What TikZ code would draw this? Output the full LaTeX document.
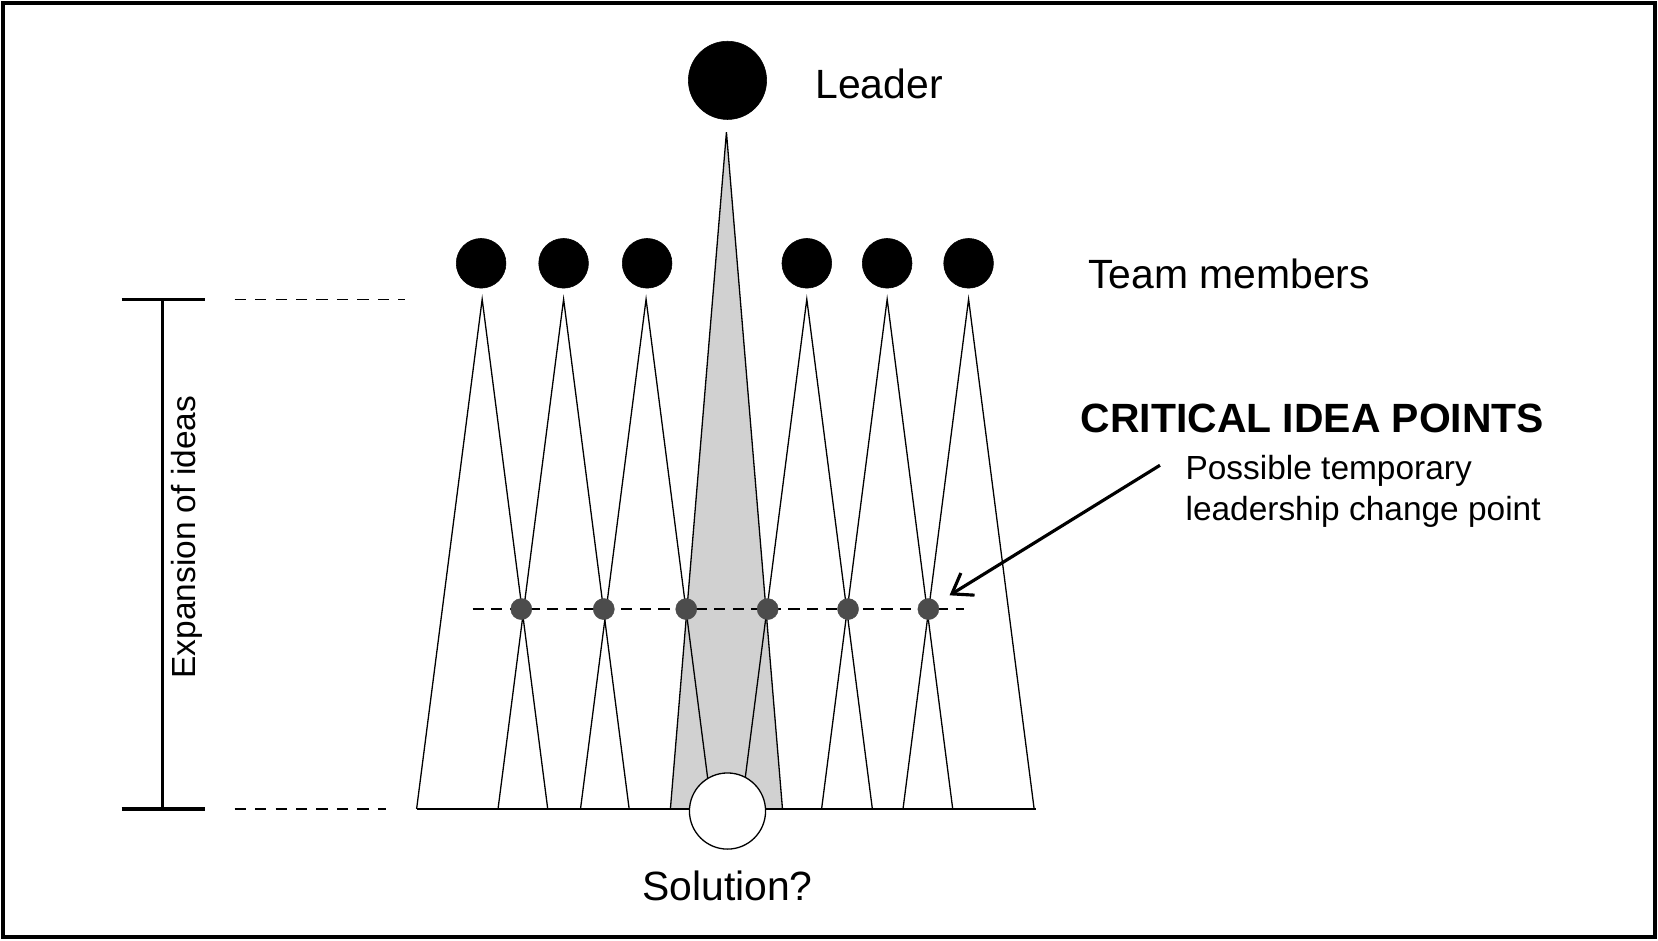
\documentclass[tikz,border=0pt]{standalone}
\usepackage{fontspec}
\setmainfont{Liberation Sans}
\usetikzlibrary{arrows.meta}
\begin{document}
\begin{tikzpicture}[x=0.02cm,y=-0.02cm,
  thin line/.style={line width=0.7pt},
  big/.style={font=\fontsize{22}{26}\selectfont},
  small/.style={font=\fontsize{18}{22}\selectfont},
  cross/.style={circle,fill=black!70,draw=black!70,line width=0.2pt,minimum size=20*0.02cm,inner sep=0pt},
  dot/.style={circle,fill=black,draw=black,line width=0.3pt,inner sep=0pt}]
\useasboundingbox (0,0) rectangle (1568,889);
\draw[line width=2.3pt] (3,3) rectangle (1565,886);
% leader triangle
\coordinate (la) at (687,125);
\coordinate (ll) at (634,765);
\coordinate (lr) at (740,765);
\filldraw[fill=black!18,draw=black,thin line] (la) -- (ll) -- (lr) -- cycle;
% member triangles
\foreach \n/\x in {1/456,2/533,3/611,4/763,5/839,6/916}{
  \coordinate (a\n) at (\x,283);
  \coordinate (bl\n) at (\x-62,765);
  \coordinate (br\n) at (\x+62,765);
  \draw[thin line] (bl\n) -- (a\n) -- (br\n);
}
\coordinate (base l) at (394,765);
\coordinate (base r) at (980,765);
\draw[thin line] (base l) -- (base r);
% dashed line with crossing points
\coordinate (dl) at (447,576);
\coordinate (dr) at (912,576);
\draw[thin line,dash pattern=on 6pt off 4pt] (dl) -- (dr);
\foreach \n/\x in {1/493,2/571,3/649,4/726,5/802,6/878}
  \node[cross] (c\n) at (\x,576) {};
% circles
\node[dot,minimum size=74*0.02cm] (leader) at (688,76) {};
\foreach \n/\x in {1/455,2/533,3/612,4/763,5/839,6/916}
  \node[dot,minimum size=47*0.02cm] (m\n) at (\x,249) {};
\node[circle,fill=white,draw=black,thin line,minimum size=72*0.02cm,inner sep=0pt] (sol) at (688,767) {};
% texts
\node[big,anchor=west] (tl) at (765,79) {Leader};
\node[big,anchor=west] (tm) at (1023,259) {Team members};
\node[big,anchor=west,font=\fontsize{22}{26}\selectfont\bfseries] (tc) at (1016,396) {CRITICAL IDEA POINTS};
\node[small,anchor=west,align=left] (tp) at (1115,465) {Possible temporary\\leadership change point};
\node[big] (ts) at (688,838) {Solution?};
\node[small,rotate=90] (te) at (177,508) {Expansion of ideas};
% bracket
\coordinate (bt) at (154,283);
\coordinate (bb) at (154,765);
\coordinate (btl) at (115,283);
\coordinate (btr) at (194,283);
\coordinate (bbl) at (115,765);
\coordinate (bbr) at (194,765);
\draw[line width=1.7pt] (bt) -- (bb);
\draw[line width=1.7pt] (btl) -- (btr);
\draw[line width=1.7pt] (bbl) -- (bbr);
\coordinate (d1a) at (222,283); \coordinate (d1b) at (383,283);
\coordinate (d2a) at (222,765); \coordinate (d2b) at (365,765);
\draw[thin line,dash pattern=on 6pt off 5pt] (d1a) -- (d1b);
\draw[thin line,dash pattern=on 6pt off 5pt] (d2a) -- (d2b);
% arrow
\coordinate (as) at (1097,440);
\coordinate (ae) at (898,563);
\draw[line width=1.7pt,-{Straight Barb[length=10pt,width=14pt,line width=1.7pt]}] (as) -- (ae);
\end{tikzpicture}
\end{document}
